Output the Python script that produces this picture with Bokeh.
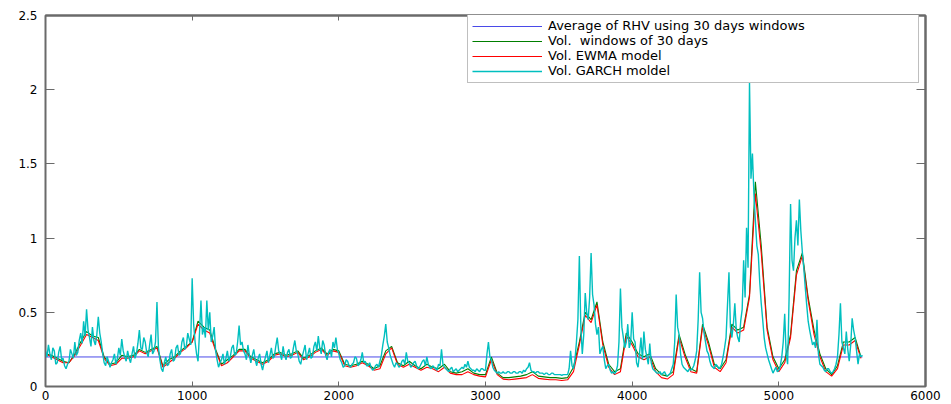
import numpy as np
from bokeh.plotting import figure
from bokeh.models import Range1d, FixedTicker, LinearAxis, Legend, LegendItem
from bokeh.embed import file_html
from bokeh.resources import INLINE

# ---------------- data ----------------
step_garch = 10      # days between GARCH samples
step_smooth = 40     # days between window / EWMA samples
n_days = 5570
avg_rhv = 0.199

garch_vol = [
    0.24, 0.20, 0.28, 0.22, 0.18, 0.26, 0.24, 0.15, 0.16, 0.23, 0.27, 0.18, 0.19, 0.14, 0.12, 0.15, 0.17, 0.25, 0.22, 0.19,
    0.30, 0.21, 0.23, 0.31, 0.36, 0.29, 0.44, 0.34, 0.52, 0.38, 0.33, 0.27, 0.40, 0.31, 0.28, 0.35, 0.47, 0.36, 0.30, 0.22,
    0.16, 0.14, 0.20, 0.17, 0.13, 0.16, 0.18, 0.22, 0.15, 0.19, 0.26, 0.21, 0.32, 0.24, 0.20, 0.17, 0.24, 0.19, 0.16, 0.22,
    0.27, 0.19, 0.22, 0.29, 0.38, 0.26, 0.25, 0.33, 0.30, 0.23, 0.20, 0.28, 0.35, 0.22, 0.24, 0.30, 0.57, 0.26, 0.18, 0.12,
    0.10, 0.16, 0.20, 0.14, 0.15, 0.22, 0.25, 0.17, 0.18, 0.26, 0.28, 0.21, 0.22, 0.30, 0.33, 0.25, 0.27, 0.36, 0.32, 0.28,
    0.73, 0.42, 0.30, 0.22, 0.17, 0.36, 0.58, 0.35, 0.40, 0.33, 0.58, 0.38, 0.50, 0.30, 0.34, 0.40, 0.24, 0.18, 0.13, 0.16,
    0.18, 0.22, 0.15, 0.19, 0.24, 0.17, 0.20, 0.26, 0.28, 0.21, 0.22, 0.30, 0.41, 0.28, 0.30, 0.24, 0.22, 0.18, 0.28, 0.21,
    0.16, 0.21, 0.25, 0.18, 0.14, 0.19, 0.22, 0.15, 0.11, 0.16, 0.20, 0.24, 0.16, 0.21, 0.26, 0.19, 0.20, 0.27, 0.33, 0.24,
    0.22, 0.18, 0.27, 0.21, 0.18, 0.23, 0.25, 0.19, 0.20, 0.26, 0.31, 0.24, 0.22, 0.17, 0.15, 0.20, 0.24, 0.28, 0.18, 0.22,
    0.26, 0.19, 0.20, 0.27, 0.30, 0.24, 0.34, 0.26, 0.22, 0.31, 0.28, 0.21, 0.18, 0.23, 0.25, 0.20, 0.30, 0.26, 0.33, 0.25,
    0.22, 0.18, 0.16, 0.13, 0.14, 0.18, 0.17, 0.14, 0.13, 0.15, 0.16, 0.20, 0.19, 0.14, 0.15, 0.18, 0.23, 0.16, 0.17, 0.14,
    0.14, 0.16, 0.13, 0.11, 0.12, 0.14, 0.15, 0.13, 0.17, 0.21, 0.28, 0.34, 0.42, 0.30, 0.26, 0.21, 0.18, 0.15, 0.13, 0.16,
    0.15, 0.13, 0.14, 0.17, 0.18, 0.15, 0.23, 0.17, 0.16, 0.13, 0.14, 0.16, 0.17, 0.14, 0.12, 0.13, 0.15, 0.17, 0.18, 0.14,
    0.20, 0.15, 0.13, 0.12, 0.14, 0.13, 0.12, 0.11, 0.15, 0.14, 0.25, 0.15, 0.13, 0.12, 0.11, 0.10, 0.12, 0.13, 0.10, 0.11,
    0.12, 0.10, 0.11, 0.12, 0.13, 0.12, 0.15, 0.13, 0.17, 0.13, 0.12, 0.11, 0.11, 0.10, 0.12, 0.11, 0.10, 0.12, 0.12, 0.11,
    0.11, 0.22, 0.30, 0.20, 0.18, 0.13, 0.11, 0.10, 0.09, 0.10, 0.09, 0.09, 0.10, 0.09, 0.09, 0.10, 0.10, 0.09, 0.09, 0.10,
    0.10, 0.09, 0.09, 0.10, 0.10, 0.09, 0.11, 0.10, 0.12, 0.13, 0.16, 0.11, 0.10, 0.10, 0.09, 0.10, 0.10, 0.09, 0.09, 0.09,
    0.08, 0.09, 0.09, 0.08, 0.08, 0.09, 0.09, 0.08, 0.08, 0.08, 0.08, 0.08, 0.075, 0.08, 0.08, 0.08, 0.08, 0.12, 0.24, 0.14,
    0.12, 0.18, 0.30, 0.45, 0.88, 0.40, 0.22, 0.35, 0.63, 0.50, 0.45, 0.60, 0.90, 0.62, 0.55, 0.42, 0.35, 0.40, 0.22, 0.25,
    0.27, 0.18, 0.12, 0.14, 0.15, 0.11, 0.09, 0.10, 0.085, 0.10, 0.14, 0.30, 0.66, 0.40, 0.33, 0.26, 0.30, 0.42, 0.26, 0.30,
    0.50, 0.32, 0.30, 0.16, 0.13, 0.22, 0.33, 0.18, 0.37, 0.25, 0.20, 0.15, 0.29, 0.16, 0.12, 0.11, 0.10, 0.09, 0.09, 0.10,
    0.08, 0.09, 0.10, 0.08, 0.07, 0.08, 0.09, 0.12, 0.15, 0.30, 0.62, 0.40, 0.35, 0.22, 0.15, 0.13, 0.12, 0.11, 0.10, 0.12,
    0.11, 0.12, 0.14, 0.18, 0.24, 0.45, 0.77, 0.50, 0.46, 0.36, 0.30, 0.24, 0.22, 0.17, 0.14, 0.13, 0.12, 0.15, 0.14, 0.12,
    0.13, 0.15, 0.20, 0.26, 0.33, 0.55, 0.77, 0.40, 0.33, 0.42, 0.56, 0.38, 0.33, 0.30, 0.44, 0.52, 0.85, 0.60, 1.07, 0.80,
    2.05, 1.40, 1.57, 1.30, 1.12, 0.95, 0.89, 0.70, 0.56, 0.45, 0.33, 0.26, 0.22, 0.18, 0.15, 0.12, 0.09, 0.11, 0.13, 0.10,
    0.11, 0.14, 0.20, 0.30, 0.49, 0.22, 0.15, 0.60, 1.23, 0.85, 0.78, 1.00, 1.12, 0.95, 1.26, 1.05, 0.91, 0.80, 0.67, 0.55,
    0.44, 0.38, 0.33, 0.28, 0.30, 0.26, 0.45, 0.22, 0.15, 0.14, 0.13, 0.11, 0.10, 0.12, 0.12, 0.10, 0.09, 0.10, 0.12, 0.15,
    0.20, 0.35, 0.56, 0.30, 0.26, 0.22, 0.37, 0.25, 0.17, 0.28, 0.46, 0.38, 0.33, 0.24, 0.15, 0.22, 0.20, 0.21,
]

window_vol = [
    0.22, 0.21, 0.19, 0.17, 0.16, 0.22, 0.30, 0.37, 0.34, 0.33,
    0.20, 0.15, 0.16, 0.21, 0.20, 0.21, 0.25, 0.23, 0.25, 0.27,
    0.14, 0.18, 0.20, 0.24, 0.27, 0.30, 0.44, 0.40, 0.38, 0.25,
    0.15, 0.18, 0.21, 0.25, 0.25, 0.20, 0.18, 0.16, 0.18, 0.22,
    0.23, 0.21, 0.22, 0.24, 0.19, 0.21, 0.24, 0.26, 0.22, 0.25,
    0.24, 0.15, 0.14, 0.15, 0.17, 0.15, 0.12, 0.14, 0.24, 0.27,
    0.16, 0.14, 0.17, 0.14, 0.12, 0.15, 0.13, 0.12, 0.15, 0.10,
    0.09, 0.10, 0.12, 0.09, 0.08, 0.08, 0.20, 0.09, 0.06, 0.06,
    0.065, 0.07, 0.08, 0.10, 0.07, 0.065, 0.06, 0.06, 0.055, 0.06,
    0.13, 0.30, 0.50, 0.45, 0.57, 0.30, 0.15, 0.10, 0.12, 0.36,
    0.30, 0.22, 0.20, 0.22, 0.12, 0.08, 0.07, 0.10, 0.35, 0.22,
    0.12, 0.10, 0.42, 0.30, 0.15, 0.12, 0.18, 0.42, 0.38, 0.40,
    0.62, 1.38, 0.95, 0.40, 0.20, 0.12, 0.18, 0.35, 0.78, 0.90,
    0.60, 0.38, 0.22, 0.12, 0.08, 0.14, 0.30, 0.30, 0.33, 0.20,
]

ewma_vol = [
    0.22, 0.20, 0.18, 0.16, 0.16, 0.21, 0.28, 0.35, 0.33, 0.31,
    0.19, 0.14, 0.15, 0.19, 0.19, 0.20, 0.24, 0.22, 0.24, 0.26,
    0.13, 0.16, 0.19, 0.23, 0.26, 0.30, 0.42, 0.38, 0.36, 0.24,
    0.14, 0.16, 0.20, 0.24, 0.24, 0.19, 0.17, 0.15, 0.17, 0.21,
    0.22, 0.20, 0.21, 0.23, 0.18, 0.20, 0.23, 0.25, 0.21, 0.24,
    0.23, 0.14, 0.13, 0.14, 0.16, 0.14, 0.11, 0.12, 0.22, 0.26,
    0.15, 0.13, 0.15, 0.13, 0.11, 0.13, 0.12, 0.10, 0.13, 0.09,
    0.08, 0.08, 0.10, 0.08, 0.07, 0.065, 0.18, 0.08, 0.05, 0.045,
    0.05, 0.055, 0.06, 0.08, 0.055, 0.05, 0.045, 0.045, 0.04, 0.045,
    0.10, 0.28, 0.48, 0.43, 0.55, 0.28, 0.13, 0.08, 0.10, 0.34,
    0.28, 0.20, 0.18, 0.20, 0.10, 0.06, 0.05, 0.08, 0.33, 0.20,
    0.10, 0.09, 0.40, 0.28, 0.13, 0.10, 0.16, 0.40, 0.36, 0.38,
    0.60, 1.30, 0.90, 0.38, 0.18, 0.10, 0.16, 0.33, 0.75, 0.88,
    0.58, 0.35, 0.20, 0.10, 0.07, 0.12, 0.28, 0.28, 0.31, 0.19,
]

legend_labels = [
    "Average of RHV using 30 days windows",
    "Vol.  windows of 30 days",
    "Vol. EWMA model",
    "Vol. GARCH moldel",
]

x_ticks = [0, 1000, 2000, 3000, 4000, 5000, 6000]
x_tick_labels = ["0", "1000", "2000", "3000", "4000", "5000", "6000"]
y_ticks = [0, 0.5, 1, 1.5, 2, 2.5]
y_tick_labels = ["0", "0.5", "1", "1.5", "2", "2.5"]

# ---------------- figure ----------------
FONT = "DejaVu Sans"
FRAME = "#6a6a6a"

p = figure(width=951, height=404, output_backend="svg", toolbar_location=None,
           x_range=Range1d(0, 6000), y_range=Range1d(0, 2.5),
           x_axis_type=None, y_axis_type=None,
           min_border_left=45, min_border_right=26,
           min_border_top=15, min_border_bottom=18)
p.background_fill_color = "white"
p.border_fill_color = "white"
p.outline_line_color = FRAME
p.outline_line_width = 2


def style_axis(ax, ticks, labels, tick_len, show_labels):
    ax.ticker = FixedTicker(ticks=ticks)
    ax.major_label_overrides = {t: l for t, l in zip(ticks, labels)}
    ax.axis_line_color = FRAME
    ax.axis_line_width = 1
    ax.major_tick_line_color = FRAME
    ax.major_tick_in = tick_len
    ax.major_tick_out = 0
    ax.minor_tick_line_color = None
    ax.major_label_text_font = FONT
    ax.major_label_text_font_size = "12px"
    if show_labels:
        ax.major_label_text_color = "black"
    else:
        ax.major_label_text_color = None
        ax.major_label_standoff = 0


xb = LinearAxis()
style_axis(xb, x_ticks, x_tick_labels, 5, True)
xb.major_label_standoff = 4
p.add_layout(xb, "below")

xt = LinearAxis()
style_axis(xt, x_ticks, x_tick_labels, 5, False)
xt.axis_line_width = 2
p.add_layout(xt, "above")

yl = LinearAxis()
style_axis(yl, y_ticks, y_tick_labels, 9, True)
yl.major_label_standoff = 8
p.add_layout(yl, "left")

yr = LinearAxis()
style_axis(yr, y_ticks, y_tick_labels, 9, False)
yr.axis_line_width = 2
p.add_layout(yr, "right")

# ---------------- series ----------------
x_g = np.arange(len(garch_vol)) * step_garch
x_w = np.arange(len(window_vol)) * step_smooth
x_e = np.arange(len(ewma_vol)) * step_smooth

r_avg = p.line([0, n_days], [avg_rhv, avg_rhv], line_color="#4a4ae8", line_width=1)
r_win = p.line(x_w, window_vol, line_color="#007f00", line_width=1.1)
r_ewma = p.line(x_e, ewma_vol, line_color="#ff0000", line_width=1.1)
r_garch = p.line(x_g, garch_vol, line_color="#00bfbf", line_width=1.4)

items = [LegendItem(label=lab, renderers=[r])
         for lab, r in zip(legend_labels, [r_avg, r_win, r_ewma, r_garch])]
legend = Legend(items=items, location=(422, 303), margin=0, padding=4,
                spacing=0, label_height=14, glyph_height=14, glyph_width=70,
                label_standoff=6, label_width=366,
                label_text_font=FONT, label_text_font_size="13px",
                label_text_color="black",
                border_line_color="#808080", border_line_width=1,
                background_fill_color="white", background_fill_alpha=1)
p.add_layout(legend)

open("out.html", "w").write(file_html(p, INLINE))
